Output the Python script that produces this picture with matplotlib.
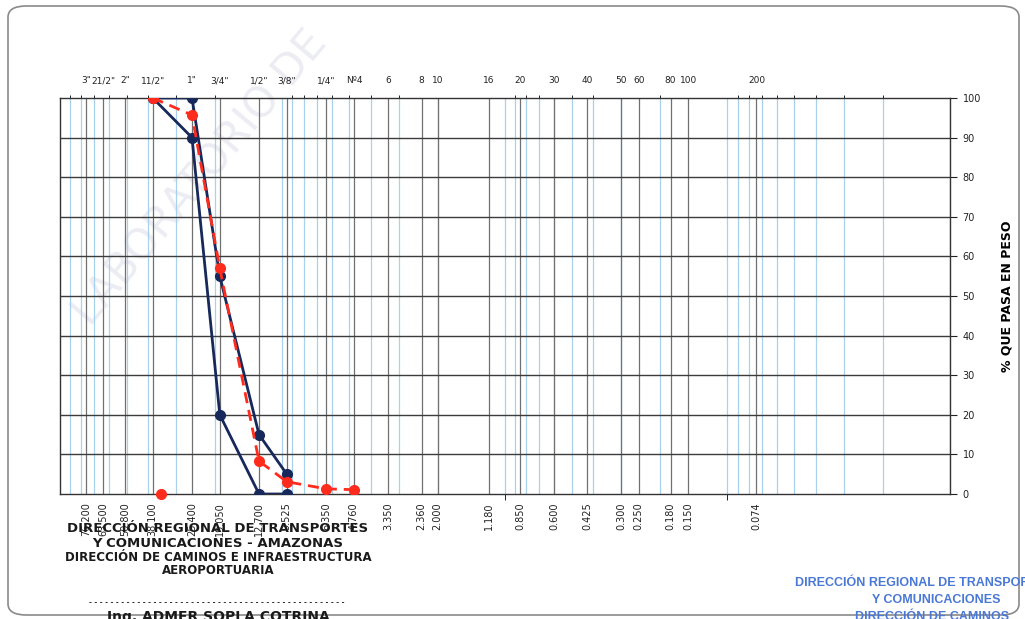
import matplotlib
matplotlib.use("Agg")
import matplotlib.pyplot as plt
import numpy as np
from matplotlib.patches import FancyBboxPatch
from matplotlib.ticker import FixedLocator, NullFormatter

# Tamices (mm) y sus designaciones
sieve_mm = [76.2, 63.5, 50.8, 38.1, 25.4, 19.05, 12.7, 9.525, 6.35, 4.76, 3.35,
            2.36, 2.0, 1.18, 0.85, 0.6, 0.425, 0.3, 0.25, 0.18, 0.15, 0.074]
sieve_names = ['3"', '21/2"', '2"', '11/2"', '1"', '3/4"', '1/2"', '3/8"', '1/4"',
               'Nº4', '6', '8', '10', '16', '20', '30', '40', '50', '60', '80',
               '100', '200']

# Huso granulométrico
band_mm = [38.1, 25.4, 19.05, 12.7, 9.525]
band_upper = [100, 100, 55, 15, 5]
band_lower = [100, 90, 20, 0, 0]

# Curva de la muestra
sample_mm = [38.1, 25.4, 19.05, 12.7, 9.525, 6.35, 4.76]
sample_pct = [100, 95.7, 57.0, 8.3, 3.1, 1.3, 1.1]
stray_mm = [35.0]
stray_pct = [0]

navy = "#17285a"
red = "#ff2b1c"

fig = plt.figure(figsize=(10.25, 6.19), dpi=100)
fig.patches.append(FancyBboxPatch((8 / 1025, 4 / 619), 1011 / 1025, 609 / 619,
                                  boxstyle="round,pad=0,rounding_size=0.018",
                                  transform=fig.transFigure, fill=False,
                                  edgecolor="#8a8a8a", linewidth=1.2))

# marca de agua del laboratorio, detrás de la rejilla
fig.text(200 / 1025, 1 - 178 / 619, "LABORATORIO DE", rotation=50, fontsize=30,
         color="#ececf3", ha="center", va="center", zorder=-5)

ax = fig.add_axes([59.5 / 1025, 1 - 494 / 619, 890.5 / 1025, 396 / 619])
ax.set_facecolor("none")
ax.set_xscale("log")
ax.set_xlim(100, 0.01)
ax.set_ylim(0, 100)

# rejilla: líneas logarítmicas en celeste, tamices en gris
for dec in [0.01, 0.1, 1, 10]:
    for m in range(1, 10):
        ax.axvline(dec * m, color="#a9d0ec", lw=0.9, zorder=0)
for s in sieve_mm:
    ax.axvline(s, color="#707070", lw=0.9, zorder=1)
for yv in range(10, 100, 10):
    ax.axhline(yv, color="#3c3c3c", lw=1.0, zorder=1)

ax.plot(band_mm, band_upper, color=navy, lw=2, marker="o", ms=7, zorder=3)
ax.plot(band_mm, band_lower, color=navy, lw=2, marker="o", ms=7, zorder=3)
ax.plot(sample_mm, sample_pct, color=red, lw=2, ls=(0, (4, 2.5)), marker="o",
        ms=7, zorder=4)
ax.plot(stray_mm, stray_pct, color=red, ls="none", marker="o", ms=7, zorder=4,
        clip_on=False)

for sp in ax.spines.values():
    sp.set_color("#333333")
    sp.set_linewidth(1.0)

ax.yaxis.tick_right()
ax.set_yticks(range(0, 101, 10))
ax.tick_params(axis="y", which="major", direction="out", length=5, width=0.8,
               labelsize=7, pad=4, colors="#222222")
ax.set_ylabel("% QUE PASA EN PESO", fontsize=9, fontweight="bold", labelpad=14)
ax.yaxis.set_label_position("right")

ax.set_xticks(sieve_mm, labels=[f"{v:.3f}" for v in sieve_mm], rotation=90)
ax.xaxis.set_minor_locator(FixedLocator([1, 0.1]))
ax.xaxis.set_minor_formatter(NullFormatter())
ax.tick_params(axis="x", which="major", length=0, labelsize=7, pad=6,
               colors="#222222")
ax.tick_params(axis="x", which="minor", length=4, direction="out")

top = ax.secondary_xaxis("top")
top.set_xticks(sieve_mm, labels=sieve_names)
top.tick_params(length=0, labelsize=6.5, pad=9, colors="#222222")
top.spines["top"].set_visible(False)

# sellos
stamp = dict(fontsize=9.5, fontweight="bold", color="#1a1a1a", ha="center",
             family="DejaVu Sans")
cx = 218 / 1025
fig.text(cx, 1 - 532 / 619, "DIRECCIÓN REGIONAL DE TRANSPORTES", **stamp)
fig.text(cx, 1 - 547 / 619, "Y COMUNICACIONES - AMAZONAS", **stamp)
fig.text(cx, 1 - 561 / 619, "DIRECCIÓN DE CAMINOS E INFRAESTRUCTURA",
         **dict(stamp, fontsize=8.5))
fig.text(cx, 1 - 574 / 619, "AEROPORTUARIA", **dict(stamp, fontsize=8.5))
fig.text(cx, 1 - 605 / 619, "- " * 48, **dict(stamp, fontsize=5))
fig.text(cx, 1 - 621 / 619, "Ing. ADMER SOPLA COTRINA", **dict(stamp, fontsize=10))

blue_stamp = dict(fontsize=9, fontweight="bold", color="#4a78d6",
                  family="Liberation Sans", ha="left")
fig.text(795 / 1025, 1 - 586 / 619, "DIRECCIÓN REGIONAL DE TRANSPORTES", **blue_stamp)
fig.text(872 / 1025, 1 - 603 / 619, "Y COMUNICACIONES", **blue_stamp)
fig.text(855 / 1025, 1 - 620 / 619, "DIRECCIÓN DE CAMINOS", **blue_stamp)

fig.savefig("out.png", dpi=100)
